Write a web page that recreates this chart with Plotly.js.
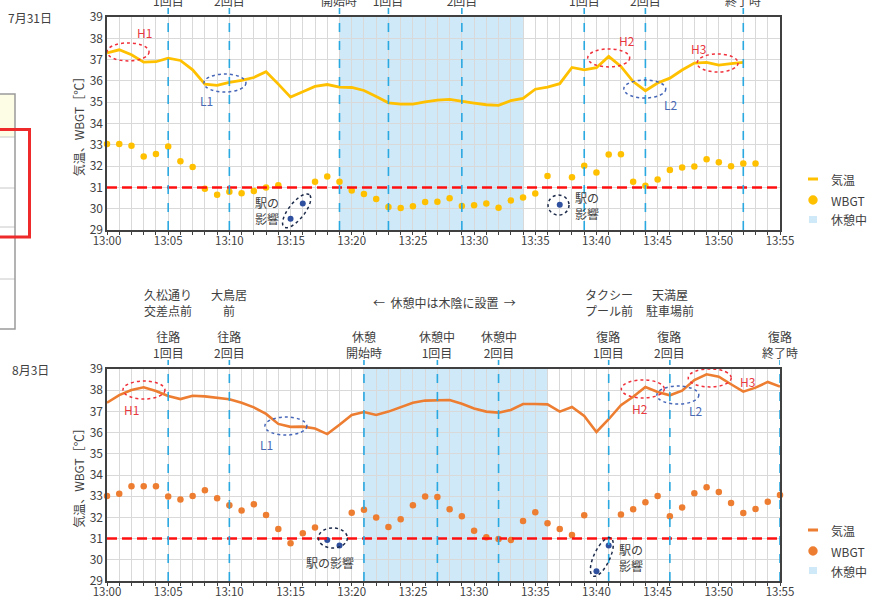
<!DOCTYPE html>
<html>
<head>
<meta charset="utf-8">
<script src="https://cdn.plot.ly/plotly-3.0.1.min.js"></script>
<style>
  html, body { margin: 0; padding: 0; background: #fff; }
  #chart { width: 876px; height: 599px; }
</style>
</head>
<body>
<div id="chart"></div>
<script>
// ---- data: one reading per minute starting at 13:00 ----
const startTime = "13:00";
const tickLabels = ["13:00","13:05","13:10","13:15","13:20","13:25","13:30","13:35","13:40","13:45","13:50","13:55"];

// 7月31日
const tempJul31 = [
  37.31, 37.46, 37.23, 36.88, 36.90, 37.07, 36.96, 36.52, 35.85, 35.79,
  35.93, 36.02, 36.16, 36.43, 35.85, 35.24, 35.49, 35.74, 35.83, 35.71,
  35.69, 35.55, 35.27, 34.97, 34.91, 34.91, 35.02, 35.10, 35.13, 35.03,
  34.96, 34.88, 34.85, 35.07, 35.18, 35.61, 35.71, 35.87, 36.63, 36.52,
  36.62, 37.15, 36.68, 35.97, 35.54, 35.90, 36.13, 36.51, 36.84, 36.87,
  36.74, 36.81, 36.87
];
const wbgtJul31 = [
  33.04, 33.04, 32.95, 32.45, 32.57, 32.92, 32.23, 31.96, 30.94, 30.66,
  30.79, 30.72, 30.83, 30.99, 31.10, 29.53, 30.25, 31.26, 31.51, 31.27,
  30.85, 30.69, 30.46, 30.08, 30.03, 30.11, 30.32, 30.33, 30.49, 30.13,
  30.16, 30.24, 30.05, 30.39, 30.52, 30.71, 31.54, 30.18, 31.48, 32.02,
  31.70, 32.54, 32.56, 31.26, 31.08, 31.37, 31.82, 31.93, 31.98, 32.32,
  32.18, 31.99, 32.12, 32.12
];
const stationJul31 = ["13:15", "13:16", "13:37"];
const restJul31 = ["13:19", "13:34"];
const checkTimesJul31 = ["13:05","13:10","13:19","13:23","13:29","13:39","13:44","13:52"];
const checkNamesJul31 = ["往路<br>1回目","往路<br>2回目","休憩<br>開始時","休憩中<br>1回目","休憩中<br>2回目","復路<br>1回目","復路<br>2回目","復路<br>終了時"];

// 8月3日
const tempAug3 = [
  37.41, 37.77, 38.01, 38.14, 37.96, 37.73, 37.58, 37.74, 37.71, 37.65,
  37.57, 37.41, 37.19, 36.88, 36.41, 36.27, 36.28, 36.19, 35.93, 36.37,
  36.83, 36.97, 36.83, 36.99, 37.21, 37.41, 37.51, 37.54, 37.54, 37.36,
  37.14, 36.99, 36.94, 37.07, 37.35, 37.35, 37.33, 36.99, 37.21, 36.78,
  36.03, 36.63, 37.29, 37.69, 38.15, 37.92, 37.76, 37.98, 38.48, 38.75,
  38.64, 38.28, 37.93, 38.12, 38.39, 38.17
];
const wbgtAug3 = [
  33.01, 33.12, 33.47, 33.47, 33.47, 32.99, 32.85, 33.01, 33.28, 32.90,
  32.57, 32.32, 32.62, 32.11, 31.45, 30.78, 31.25, 31.52, 30.93, 30.68,
  32.22, 32.36, 32.00, 31.55, 31.91, 32.57, 32.98, 32.96, 32.38, 32.05,
  31.37, 31.06, 30.98, 30.93, 31.83, 32.24, 31.72, 31.45, 31.17, 32.10,
  29.46, 30.67, 32.14, 32.38, 32.71, 33.01, 32.05, 32.47, 33.14, 33.42,
  33.20, 32.68, 32.21, 32.40, 32.74, 33.06
];
const stationAug3 = ["13:18", "13:19", "13:40", "13:41"];
const restAug3 = ["13:21", "13:36"];
const checkTimesAug3 = ["13:05","13:10","13:21","13:27","13:32","13:41","13:46","13:55"];
const checkNamesAug3 = ["往路<br>1回目","往路<br>2回目","休憩<br>開始時","休憩中<br>1回目","休憩中<br>2回目","復路<br>1回目","復路<br>2回目","復路<br>終了時"];
const placeTimesAug3 = ["13:05","13:10","13:41","13:46"];
const placeNamesAug3 = ["久松通り<br>交差点前","大鳥居<br>前","タクシー<br>プール前","天満屋<br>駐車場前"];

const wbgtLimit = 31;

// ---- helpers ----
const W = 876, H = 599;
const FONT = '"Noto Sans CJK JP", "Noto Sans", sans-serif';
const TXT = '#404040';
const YELLOW = '#ffc000', ORANGE = '#ed7d31', STATION = '#2f4f9f';
const MARK_BLUE = '#2aa8e0', SHADE = '#cfe9f8';
const PL = 107, PR = 780;                 // plot left / right (px)
const T1 = 17, B1 = 230, T2 = 369, B2 = 581; // plot tops / bottoms (px)
const pxX = (PR - PL) / 55;               // px per minute
const px = x => x / W;
const py = y => 1 - y / H;

const toMin = s => { const [h, m] = s.split(':').map(Number); const [h0, m0] = startTime.split(':').map(Number); return (h - h0) * 60 + (m - m0); };
const minutes = arr => arr.map((_, i) => toMin(startTime) + i);

function wbgtTraces(vals, station, color, xa, ya) {
  const x = minutes(vals), st = station.map(toMin);
  const norm = { x: [], y: [] }, odd = { x: [], y: [] };
  x.forEach((m, i) => { const t = st.includes(m) ? odd : norm; t.x.push(m); t.y.push(vals[i]); });
  return [
    { type: 'scatter', mode: 'markers', x: norm.x, y: norm.y, xaxis: xa, yaxis: ya,
      marker: { color: color, size: 6.5 }, cliponaxis: false, showlegend: false, hoverinfo: 'x+y' },
    { type: 'scatter', mode: 'markers', x: odd.x, y: odd.y, xaxis: xa, yaxis: ya,
      marker: { color: STATION, size: 6 }, cliponaxis: false, showlegend: false, hoverinfo: 'x+y' }
  ];
}

const traces = [
  { type: 'scatter', mode: 'lines', x: minutes(tempJul31), y: tempJul31, xaxis: 'x', yaxis: 'y',
    line: { color: YELLOW, width: 2.8 }, showlegend: false, cliponaxis: false },
  ...wbgtTraces(wbgtJul31, stationJul31, YELLOW, 'x', 'y'),
  { type: 'scatter', mode: 'lines', x: minutes(tempAug3), y: tempAug3, xaxis: 'x2', yaxis: 'y2',
    line: { color: ORANGE, width: 2.6 }, showlegend: false, cliponaxis: false },
  ...wbgtTraces(wbgtAug3, stationAug3, ORANGE, 'x2', 'y2')
];

// ---- shapes ----
const shapes = [];
const annotations = [];

function panelDecor(xa, ya, top, bot, rest, checks, names) {
  const pxY = (bot - top) / 10;
  // rest period band
  shapes.push({ type: 'rect', xref: xa, yref: ya, x0: toMin(rest[0]), x1: toMin(rest[1]), y0: 29, y1: 39,
    fillcolor: SHADE, line: { width: 0 }, layer: 'below' });
  // WBGT 31 line
  shapes.push({ type: 'line', xref: xa, yref: ya, x0: 0, x1: 55, y0: wbgtLimit, y1: wbgtLimit,
    line: { color: '#ff1010', width: 2.5, dash: '10px,5px' }, layer: 'above' });
  // checkpoint lines and captions
  checks.forEach((c, i) => {
    shapes.push({ type: 'line', xref: xa, yref: 'paper', x0: toMin(c), x1: toMin(c), y0: py(bot), y1: py(top - 9),
      line: { color: MARK_BLUE, width: 1.6, dash: 'dash' }, layer: 'above' });
    annotations.push({ xref: xa, yref: 'paper', x: toMin(c), y: py(top - 24.5), text: names[i],
      showarrow: false, xanchor: 'center', yanchor: 'middle', font: { family: FONT, size: 12, color: TXT } });
  });
  return pxY;
}
const pxY1 = panelDecor('x', 'y', T1, B1, restJul31, checkTimesJul31, checkNamesJul31);
const pxY2 = panelDecor('x2', 'y2', T2, B2, restAug3, checkTimesAug3, checkNamesAug3);

function ring(xa, ya, xc, yc, wpx, hpx, color) {
  const rx = wpx / 2 / pxX, ry = hpx / 2 / (ya === 'y' ? pxY1 : pxY2);
  shapes.push({ type: 'circle', xref: xa, yref: ya, x0: xc - rx, x1: xc + rx, y0: yc - ry, y1: yc + ry,
    line: { color: color, width: 1.5, dash: 'dot' }, layer: 'above' });
}
function tiltedRing(xa, ya, xc, yc, a, b, deg, color) {
  const sy = ya === 'y' ? pxY1 : pxY2, t = deg * Math.PI / 180;
  let d = '';
  for (let i = 0; i <= 48; i++) {
    const s = 2 * Math.PI * i / 48, ex = a * Math.cos(s), ey = b * Math.sin(s);
    const rx = ex * Math.cos(t) - ey * Math.sin(t), ry = ex * Math.sin(t) + ey * Math.cos(t);
    d += (i ? 'L' : 'M') + (xc + rx / pxX).toFixed(3) + ',' + (yc + ry / sy).toFixed(3);
  }
  shapes.push({ type: 'path', xref: xa, yref: ya, path: d + 'Z',
    line: { color: color, width: 1.5, dash: 'dot' }, layer: 'above' });
}
function tag(xa, ya, x, y, text, color, anchor) {
  annotations.push({ xref: xa, yref: ya, x: x, y: y, text: text, showarrow: false,
    xanchor: anchor || 'center', yanchor: 'middle', align: anchor || 'center',
    font: { family: FONT, size: 12, color: color } });
}
const RED_DOT = '#f0303a', BLUE_DOT = '#4666b8', NAVY_DOT = '#1c2a4a';
const RED_TXT = '#e8393f', BLUE_TXT = '#4a69b5';

// 7月31日 highs / lows / station effect
ring('x', 'y', 1.72, 37.36, 42, 18, RED_DOT);  tag('x', 'y', 3.1, 38.25, 'H1', RED_TXT);
ring('x', 'y', 9.64, 35.90, 42, 18, BLUE_DOT); tag('x', 'y', 8.1, 35.1, 'L1', BLUE_TXT);
ring('x', 'y', 41.0, 37.08, 42, 18, RED_DOT);  tag('x', 'y', 42.5, 37.92, 'H2', RED_TXT);
ring('x', 'y', 43.95, 35.62, 42, 18, BLUE_DOT); tag('x', 'y', 46.1, 34.87, 'L2', BLUE_TXT);
ring('x', 'y', 49.9, 36.84, 41, 18, RED_DOT);  tag('x', 'y', 48.3, 37.54, 'H3', RED_TXT);
tiltedRing('x', 'y', 15.5, 29.9, 20.5, 8, 52, NAVY_DOT);
tag('x', 'y', 14.25, 29.9, '駅の<br>影響', TXT, 'right');
ring('x', 'y', 36.9, 30.17, 21, 20, NAVY_DOT);
tag('x', 'y', 38.1, 30.13, '駅の<br>影響', TXT, 'left');

// 8月3日 highs / lows / station effect
ring('x2', 'y2', 3.02, 38.01, 42, 18, RED_DOT);  tag('x2', 'y2', 2.04, 37.07, 'H1', RED_TXT);
ring('x2', 'y2', 14.62, 36.31, 42, 18, BLUE_DOT); tag('x2', 'y2', 13.0, 35.46, 'L1', BLUE_TXT);
ring('x2', 'y2', 43.79, 38.06, 43, 18, RED_DOT); tag('x2', 'y2', 43.55, 37.16, 'H2', RED_TXT);
ring('x2', 'y2', 46.65, 37.77, 42, 18, BLUE_DOT); tag('x2', 'y2', 48.1, 37.02, 'L2', BLUE_TXT);
ring('x2', 'y2', 49.26, 38.58, 43, 18, RED_DOT); tag('x2', 'y2', 52.37, 38.43, 'H3', RED_TXT);
ring('x2', 'y2', 18.46, 31.03, 29, 20, NAVY_DOT);
tag('x2', 'y2', 18.2, 29.85, '駅の影響', TXT);
tiltedRing('x2', 'y2', 40.44, 30.13, 21, 8, 65, NAVY_DOT);
tag('x2', 'y2', 41.7, 30.13, '駅の<br>影響', TXT, 'left');

// place names above the 8月3日 panel
placeTimesAug3.forEach((t, i) => {
  annotations.push({ xref: 'x2', yref: 'paper', x: toMin(t), y: py(302), text: placeNamesAug3[i], showarrow: false,
    xanchor: 'center', yanchor: 'middle', font: { family: FONT, size: 12, color: TXT } });
});
annotations.push({ xref: 'paper', yref: 'paper', x: px(444), y: py(302), text: '←  休憩中は木陰に設置  →',
  showarrow: false, xanchor: 'center', yanchor: 'middle', font: { family: FONT, size: 12, color: TXT } });

// date captions
annotations.push({ xref: 'paper', yref: 'paper', x: px(30), y: py(17), text: '7月31日', showarrow: false,
  xanchor: 'center', yanchor: 'middle', font: { family: FONT, size: 12, color: TXT } });
annotations.push({ xref: 'paper', yref: 'paper', x: px(30), y: py(369), text: '8月3日', showarrow: false,
  xanchor: 'center', yanchor: 'middle', font: { family: FONT, size: 12, color: TXT } });

// side table fragment on the left edge
shapes.push({ type: 'rect', xref: 'paper', yref: 'paper', x0: px(-2), x1: px(15), y0: py(94), y1: py(137),
  fillcolor: '#fdfde6', line: { width: 0 }, layer: 'below' });
[137, 188, 227, 279].forEach(y => shapes.push({ type: 'line', xref: 'paper', yref: 'paper',
  x0: 0, x1: px(15), y0: py(y), y1: py(y), line: { color: '#c8c8c8', width: 1 } }));
shapes.push({ type: 'rect', xref: 'paper', yref: 'paper', x0: px(-2), x1: px(15), y0: py(329), y1: py(94),
  line: { color: '#9a9a9a', width: 1.5 } });
shapes.push({ type: 'rect', xref: 'paper', yref: 'paper', x0: px(-4), x1: px(29.5), y0: py(237), y1: py(129.5),
  line: { color: '#ee2a2a', width: 3 } });

// legends
function legend(top, lineColor) {
  shapes.push({ type: 'line', xref: 'paper', yref: 'paper', x0: px(808), x1: px(818), y0: py(top), y1: py(top),
    line: { color: lineColor, width: 3 } });
  shapes.push({ type: 'circle', xref: 'paper', yref: 'paper', x0: px(808.3), x1: px(817.7), y0: py(top + 25.7), y1: py(top + 16.3),
    fillcolor: lineColor, line: { width: 0 } });
  shapes.push({ type: 'rect', xref: 'paper', yref: 'paper', x0: px(809), x1: px(817), y0: py(top + 44), y1: py(top + 37),
    fillcolor: SHADE, line: { width: 0 } });
  [['気温', 0], ['WBGT', 21], ['休憩中', 41]].forEach(([t, dy]) =>
    annotations.push({ xref: 'paper', yref: 'paper', x: px(829), y: py(top + dy), text: t, showarrow: false,
      xanchor: 'left', yanchor: 'middle', font: { family: FONT, size: 12, color: TXT } }));
}
legend(179, YELLOW);
legend(530, ORANGE);

// ---- axes ----
function xAxis(anchor) {
  return {
    domain: [px(PL), px(PR)], anchor: anchor, range: [0, 55],
    tickmode: 'array', tickvals: tickLabels.map(toMin), ticktext: tickLabels,
    ticks: 'outside', ticklen: 3, tickcolor: TXT, tickwidth: 1,
    showgrid: true, gridcolor: '#d9d9d9', gridwidth: 1,
    minor: { tickmode: 'linear', tick0: 0, dtick: 1, showgrid: true, gridcolor: '#d9d9d9', gridwidth: 1,
      ticks: 'outside', ticklen: 3, tickcolor: TXT, tickwidth: 1 },
    showline: true, linecolor: TXT, linewidth: 1.6, mirror: true, zeroline: false,
    ticklabelstandoff: -3,
    tickfont: { family: FONT, size: 11.5, color: TXT }, fixedrange: true
  };
}
function yAxis(anchor, top, bot) {
  return {
    domain: [py(bot), py(top)], anchor: anchor, range: [29, 39],
    tickmode: 'linear', tick0: 29, dtick: 1, ticks: '',
    showgrid: true, gridcolor: '#d9d9d9', gridwidth: 1,
    showline: true, linecolor: TXT, linewidth: 1.6, mirror: true, zeroline: false,
    tickfont: { family: FONT, size: 12, color: TXT },
    title: { text: '気温、WBGT［℃］', font: { family: FONT, size: 12, color: TXT }, standoff: 2 },
    fixedrange: true
  };
}

const layout = {
  width: W, height: H,
  margin: { l: 0, r: 0, t: 0, b: 0 },
  paper_bgcolor: '#ffffff', plot_bgcolor: 'rgba(0,0,0,0)',
  showlegend: false,
  font: { family: FONT, color: TXT },
  xaxis: xAxis('y'), yaxis: yAxis('x', T1, B1),
  xaxis2: xAxis('y2'), yaxis2: yAxis('x2', T2, B2),
  shapes: shapes, annotations: annotations
};

Plotly.newPlot('chart', traces, layout, { displayModeBar: false, staticPlot: true });
</script>
</body>
</html>
